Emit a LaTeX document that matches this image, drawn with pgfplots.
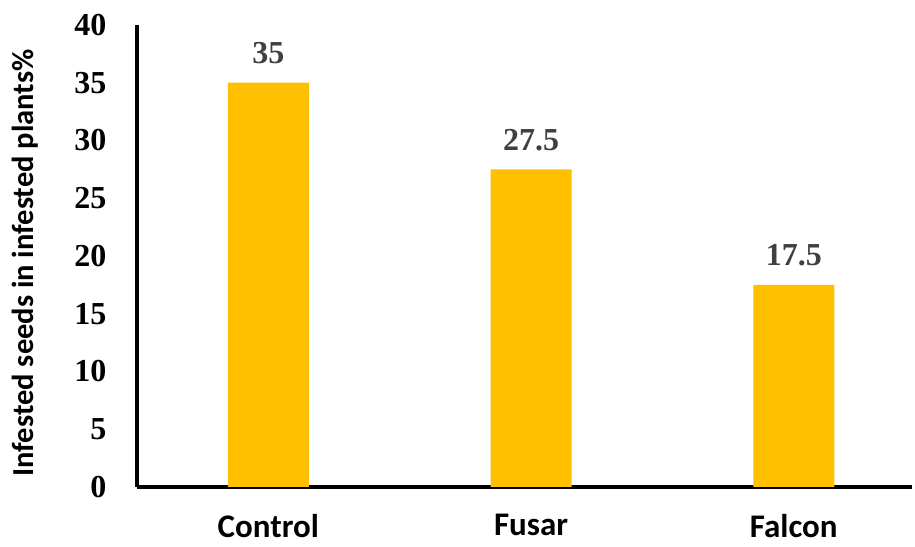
\documentclass[border=0pt]{standalone}
\usepackage{fontspec}
\setmainfont{Liberation Serif}
\newfontfamily\carlito{Carlito}
\usepackage{pgfplots}
\pgfplotsset{compat=1.18}
\definecolor{bargold}{HTML}{FFC000}
\definecolor{valgray}{HTML}{404040}

\begin{document}
\begin{tikzpicture}
\path[use as bounding box] (-137bp,-60bp) rectangle (778bp,487bp);
\begin{axis}[
    at={(0,0)}, anchor=south west,
    scale only axis,
    width=775bp, height=462bp,
    xmin=-0.5, xmax=2.45,
    ymin=0, ymax=40,
    axis x line=bottom, axis y line=left,
    axis line style={line width=3.5bp, -},
    ytick={0,5,...,40},
    xtick=data,
    xticklabels={Control, Fusar, Falcon},
    major tick length=0pt,
    /pgf/number format/assume math mode=true,
    yticklabel style={font=\fontsize{32bp}{36bp}\selectfont\bfseries, xshift=-27bp},
    xticklabel style={font=\fontsize{33bp}{36bp}\selectfont\carlito\bfseries, yshift=-24bp},
    ylabel={Infested seeds in infested plants\%},
    every axis y label/.style={at={(axis description cs:-0.1445,0.485)}, rotate=90, anchor=center,
        font=\fontsize{30.5bp}{34bp}\selectfont\carlito\bfseries},
    ybar, bar width=81bp,
    nodes near coords,
    every node near coord/.append style={font=\fontsize{32bp}{36bp}\selectfont\bfseries, text=valgray, yshift=15bp},
]
\addplot[fill=bargold, draw=none] coordinates {(0,35) (1,27.5) (2,17.5)};
\end{axis}
\end{tikzpicture}
\end{document}
